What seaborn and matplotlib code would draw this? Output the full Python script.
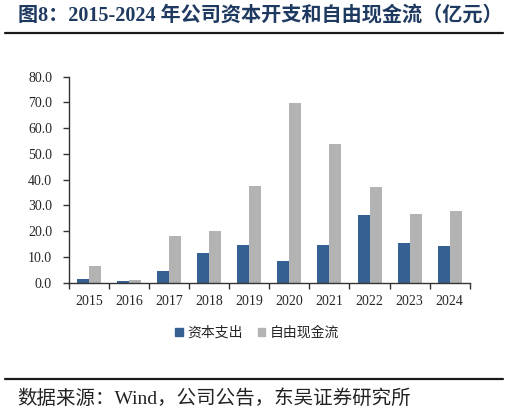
import matplotlib
matplotlib.use("Agg")
import matplotlib.pyplot as plt
from matplotlib.lines import Line2D
import seaborn as sns
import pandas as pd
import numpy as np

years = ["2015", "2016", "2017", "2018", "2019", "2020", "2021", "2022", "2023", "2024"]
capex = [1.4, 0.8, 4.4, 11.5, 14.8, 8.4, 14.6, 26.2, 15.4, 14.3]
fcf = [6.4, 0.9, 18.3, 20.0, 37.7, 69.7, 53.9, 37.2, 26.6, 28.0]
series_names = ["资本支出", "自由现金流"]
yticks = np.arange(0, 81, 10)

df = pd.DataFrame({
    "year": years * 2,
    "value": capex + fcf,
    "series": [series_names[0]] * len(years) + [series_names[1]] * len(years),
})

sns.set_style("white")
plt.rcParams["font.family"] = ["Liberation Serif", "Noto Sans CJK SC"]

fig = plt.figure(figsize=(5.09, 4.13), dpi=100)
ax = fig.add_axes([0.135, 0.3155, 0.788, 0.4988])

sns.barplot(data=df, x="year", y="value", hue="series", order=years,
            hue_order=series_names, palette=["#376092", "#B3B3B3"],
            width=0.6, saturation=1, edgecolor="none", ax=ax, legend=False)

ax.set_xlim(-0.5, len(years) - 0.5)
ax.set_ylim(0, 80)
ax.set_yticks(yticks)
ax.set_yticklabels([f"{v:.1f}" for v in yticks], fontsize=10)
ax.set_xticklabels(years, fontsize=10)
ax.set_xlabel("")
ax.set_ylabel("")

for side in ["top", "right"]:
    ax.spines[side].set_visible(False)
for side in ["left", "bottom"]:
    ax.spines[side].set_color("#333333")
    ax.spines[side].set_linewidth(1.0)

ax.tick_params(axis="y", direction="out", length=4, width=1, color="#333333", pad=8, left=True)
ax.tick_params(axis="x", which="major", length=0, pad=9)
ax.set_xticks(np.arange(-0.5, len(years), 1.0), minor=True)
ax.tick_params(axis="x", which="minor", direction="out", length=4, width=1, color="#333333", bottom=True)

handles = [plt.Rectangle((0, 0), 1, 1, color="#376092"), plt.Rectangle((0, 0), 1, 1, color="#B3B3B3")]
fig.legend(handles, series_names, loc="center", bbox_to_anchor=(0.505, 0.194), ncol=2,
           frameon=False, handlelength=0.55, handleheight=0.55,
           handletextpad=0.3, columnspacing=1.1,
           prop={"family": ["Noto Sans CJK SC"], "size": 10})

fig.text(0.035, 0.963, "图8：2015-2024 年公司资本开支和自由现金流（亿元）",
         fontsize=14.5, fontweight="bold", color="#1F3A60", va="center", ha="left",
         family=["Liberation Serif", "Noto Sans CJK SC"])
fig.add_artist(Line2D([0.01, 0.988], [0.919, 0.919], color="#1a1a1a", linewidth=1.6,
                      transform=fig.transFigure))
fig.add_artist(Line2D([0.01, 0.988], [0.082, 0.082], color="#1a1a1a", linewidth=1.6,
                      transform=fig.transFigure))
fig.text(0.033, 0.035, "数据来源：Wind，公司公告，东吴证券研究所", fontsize=14,
         color="#222222", va="center", ha="left",
         family=["Liberation Serif", "Noto Sans CJK SC"])

fig.savefig("out.png", dpi=100)
